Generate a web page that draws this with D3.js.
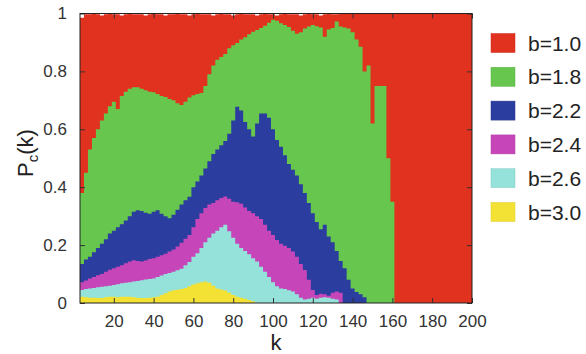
<!DOCTYPE html>
<html>
<head>
<meta charset="utf-8">
<script src="https://cdn.jsdelivr.net/npm/d3@7"></script>
<style>
  html, body { margin: 0; padding: 0; background: #fff; }
  svg { display: block; font-family: "Liberation Sans", Arial, Helvetica, sans-serif; }
</style>
</head>
<body>
<svg id="chart" width="586" height="354"></svg>
<script>
// ---- data ----
const seriesNames = ["b=1.0", "b=1.8", "b=2.2", "b=2.4", "b=2.6", "b=3.0"];
const seriesColors = ["#e0321f", "#66c64d", "#2b3d9e", "#c646b9", "#94e2da", "#f3e234"];

// k grid (step 2)
const kValues = [3,5,7,9,11,13,15,17,19,21,23,25,27,29,31,33,35,37,39,41,43,45,47,49,51,53,55,57,59,61,63,65,67,69,71,73,75,77,79,81,83,85,87,89,91,93,95,97,99,101,103,105,107,109,111,113,115,117,119,121,123,125,127,129,131,133,135,137,139,141,143,145,147,149,151,153,155,157,159,161,163,165,167,169,171,173,175,177,179,181,183,185,187,189,191,193,195,197,199];

const pB10 = [0.985,0.997,0.997,0.999,0.997,0.993,0.997,0.999,0.997,0.997,0.993,0.997,0.999,0.997,0.997,0.997,0.993,0.997,0.999,0.997,0.997,0.993,0.997,0.997,0.999,0.997,0.997,0.993,0.997,0.999,0.997,0.997,0.997,0.993,0.997,0.999,0.997,0.997,0.993,0.997,0.999,0.997,0.997,0.997,0.993,0.997,0.999,0.997,0.997,0.993,0.997,0.999,0.997,0.997,0.997,0.993,0.997,0.999,0.997,0.997,0.993,0.997,0.999,0.997,0.997,1,1,1,1,1,1,1,1,1,1,1,1,1,1,1,1,1,1,1,1,1,1,1,1,1,1,1,1,1,1,1,1,1,1];
const pB18 = [0.38,0.45,0.53,0.57,0.60,0.63,0.655,0.68,0.695,0.67,0.715,0.73,0.74,0.745,0.745,0.74,0.735,0.73,0.728,0.722,0.715,0.712,0.705,0.70,0.69,0.684,0.695,0.71,0.718,0.722,0.725,0.75,0.79,0.82,0.84,0.85,0.86,0.88,0.89,0.898,0.91,0.918,0.928,0.937,0.943,0.95,0.958,0.968,0.978,0.975,0.966,0.96,0.953,0.94,0.93,0.935,0.948,0.955,0.96,0.956,0.952,0.92,0.945,0.95,0.972,0.955,0.952,0.948,0.935,0.91,0.885,0.80,0.82,0.62,0.75,0.75,0.75,0.50,0.35];
const pB22 = [0.135,0.15,0.16,0.175,0.19,0.205,0.22,0.24,0.25,0.262,0.272,0.285,0.30,0.315,0.32,0.318,0.312,0.308,0.315,0.32,0.308,0.30,0.293,0.305,0.322,0.34,0.355,0.367,0.40,0.42,0.44,0.465,0.49,0.515,0.53,0.545,0.56,0.585,0.63,0.678,0.665,0.625,0.60,0.575,0.62,0.655,0.655,0.64,0.60,0.563,0.54,0.51,0.48,0.46,0.44,0.41,0.38,0.345,0.31,0.28,0.255,0.27,0.23,0.21,0.18,0.145,0.12,0.08,0.05,0.038,0.03,0.02];
const pB24 = [0.072,0.078,0.085,0.09,0.096,0.10,0.108,0.115,0.12,0.125,0.13,0.137,0.143,0.148,0.145,0.143,0.147,0.152,0.155,0.16,0.165,0.17,0.178,0.185,0.195,0.208,0.222,0.235,0.262,0.29,0.31,0.328,0.34,0.345,0.355,0.363,0.368,0.36,0.35,0.348,0.343,0.33,0.318,0.31,0.30,0.29,0.27,0.25,0.235,0.218,0.205,0.198,0.19,0.178,0.16,0.135,0.114,0.08,0.045,0.028,0.032,0.03,0.025,0.035,0.04,0.035];
const pB26 = [0.045,0.048,0.05,0.052,0.054,0.056,0.058,0.06,0.062,0.065,0.068,0.07,0.072,0.074,0.076,0.079,0.081,0.083,0.085,0.09,0.095,0.10,0.104,0.108,0.113,0.118,0.13,0.142,0.16,0.172,0.19,0.21,0.225,0.24,0.25,0.262,0.27,0.248,0.225,0.205,0.19,0.18,0.168,0.155,0.143,0.125,0.108,0.09,0.072,0.058,0.05,0.048,0.044,0.04,0.03,0.018,0.012,0.015,0.018,0.015,0.018,0.02,0.018,0.015,0.012];
const pB30 = [0.022,0.02,0.018,0.018,0.017,0.017,0.02,0.022,0.022,0.02,0.022,0.022,0.022,0.02,0.018,0.017,0.017,0.018,0.02,0.022,0.028,0.034,0.04,0.044,0.046,0.048,0.052,0.058,0.064,0.068,0.072,0.074,0.07,0.06,0.05,0.047,0.043,0.035,0.028,0.022,0.018,0.015,0.01,0.006];

const xTicks = [20, 40, 60, 80, 100, 120, 140, 160, 180, 200];
const yTicks = [0, 0.2, 0.4, 0.6, 0.8, 1];
const yTickLabels = ["0", "0.2", "0.4", "0.6", "0.8", "1"];

const allSeries = [pB10, pB18, pB22, pB24, pB26, pB30];

// ---- layout ----
const svg = d3.select("#chart");
const plot = { left: 80, right: 472, top: 13.5, bottom: 303 };

const x = d3.scaleLinear().domain([3, 200]).range([plot.left, plot.right]);
const y = d3.scaleLinear().domain([0, 1]).range([plot.bottom, plot.top]);

svg.append("defs").append("clipPath").attr("id", "clip")
  .append("rect")
  .attr("x", plot.left).attr("y", plot.top)
  .attr("width", plot.right - plot.left).attr("height", plot.bottom - plot.top);

const area = d3.area()
  .curve(d3.curveStepAfter)
  .x(d => x(d[0]))
  .y0(y(0))
  .y1(d => y(d[1]));

const g = svg.append("g").attr("clip-path", "url(#clip)");
allSeries.forEach((vals, si) => {
  const pts = vals.map((v, i) => [kValues[i], v]);
  const last = pts[pts.length - 1];
  pts.push([last[0] + (kValues[1] - kValues[0]), last[1]]);
  g.append("path")
    .datum(pts)
    .attr("d", area)
    .attr("fill", seriesColors[si])
    .attr("stroke", "none");
});

// ---- axes (gnuplot style: inward ticks, mirrored) ----
const tickColor = "#333";
const fontColor = "#333";

const axB = svg.append("g").attr("transform", `translate(0,${plot.bottom})`)
  .call(d3.axisBottom(x).tickValues(xTicks).tickSize(-5).tickPadding(12).tickFormat(d3.format("d")));
const axT = svg.append("g").attr("transform", `translate(0,${plot.top})`)
  .call(d3.axisTop(x).tickValues(xTicks).tickSize(-5).tickFormat(""));
const axL = svg.append("g").attr("transform", `translate(${plot.left},0)`)
  .call(d3.axisLeft(y).tickValues(yTicks).tickSize(-5).tickPadding(13).tickFormat((d, i) => yTickLabels[i]));
const axR = svg.append("g").attr("transform", `translate(${plot.right},0)`)
  .call(d3.axisRight(y).tickValues(yTicks).tickSize(-5).tickFormat(""));

[axB, axT, axL, axR].forEach(a => {
  a.select(".domain").remove();
  a.selectAll(".tick line").attr("stroke", tickColor).attr("stroke-width", 1);
  a.selectAll("text").attr("fill", fontColor).attr("font-size", 17)
    .attr("font-family", "'Liberation Sans', Arial, sans-serif");
});

svg.append("rect")
  .attr("x", plot.left).attr("y", plot.top)
  .attr("width", plot.right - plot.left).attr("height", plot.bottom - plot.top)
  .attr("fill", "none").attr("stroke", "#222").attr("stroke-width", 1);

// ---- axis titles ----
svg.append("text")
  .attr("x", (plot.left + plot.right) / 2)
  .attr("y", 350)
  .attr("text-anchor", "middle")
  .attr("font-size", 22)
  .attr("fill", "#222")
  .text("k");

const yt = svg.append("text")
  .attr("transform", "translate(33,153) rotate(-90)")
  .attr("text-anchor", "middle")
  .attr("font-size", 22)
  .attr("fill", "#222");
yt.append("tspan").text("P");
yt.append("tspan").attr("font-size", 15).attr("dy", 5).text("c");
yt.append("tspan").attr("dy", -5).text("(k)");

// ---- legend ----
const legend = svg.append("g");
seriesNames.forEach((name, i) => {
  const cy = 43 + i * 33.8;
  legend.append("rect")
    .attr("x", 491).attr("y", cy - 9.5)
    .attr("width", 24).attr("height", 19)
    .attr("fill", seriesColors[i])
    .attr("stroke", d3.color(seriesColors[i]).darker(0.3))
    .attr("stroke-width", 0.5);
  legend.append("text")
    .attr("x", 528).attr("y", cy)
    .attr("dy", "0.36em")
    .attr("font-size", 21)
    .attr("fill", "#222")
    .text(name);
});
</script>
</body>
</html>
